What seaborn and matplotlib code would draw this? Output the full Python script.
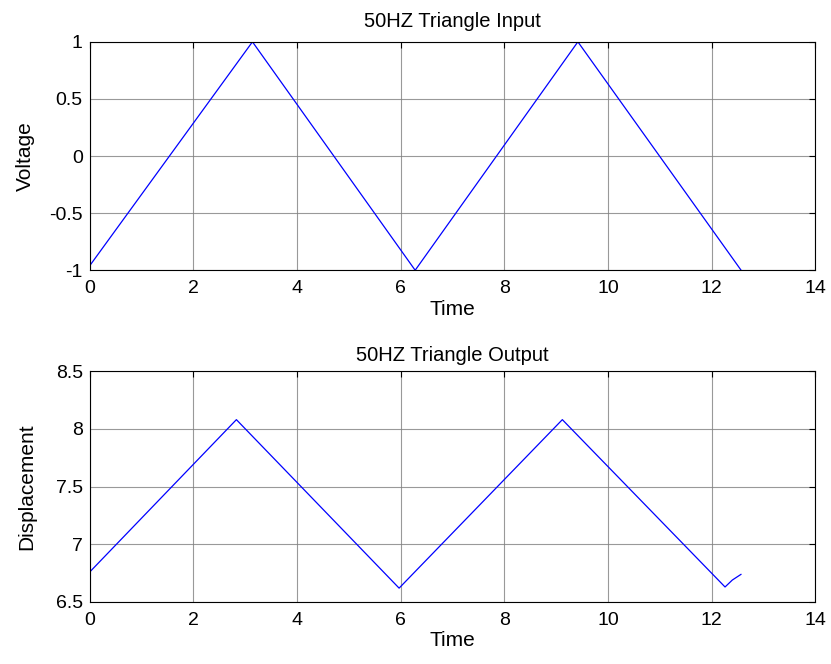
import matplotlib
matplotlib.use("Agg")
import matplotlib.pyplot as plt
import seaborn as sns
import pandas as pd

sns.set_style("white")
plt.rcParams['font.family'] = ['Liberation Sans', 'DejaVu Sans']
plt.rcParams['text.color'] = 'black'
plt.rcParams['axes.labelcolor'] = 'black'
plt.rcParams['xtick.color'] = 'black'
plt.rcParams['ytick.color'] = 'black'

# Input triangle wave vertices
t_in = [0.0, 3.14, 6.28, 9.42, 12.57]
v_in = [-0.96, 1.0, -1.0, 1.0, -1.0]

# Output displacement vertices
t_out = [0.0, 2.83, 5.97, 9.12, 12.26, 12.4, 12.57]
v_out = [6.76, 8.08, 6.62, 8.08, 6.63, 6.69, 6.74]

df_in = pd.DataFrame({"Time": t_in, "Voltage": v_in})
df_out = pd.DataFrame({"Time": t_out, "Displacement": v_out})

fig = plt.figure(figsize=(8.31, 6.64), dpi=100)
ax1 = fig.add_axes([0.108, 0.593, 0.873, 0.344])
ax2 = fig.add_axes([0.108, 0.0934, 0.873, 0.3476])

sns.lineplot(data=df_in, x="Time", y="Voltage", ax=ax1, color="#0000ff", lw=0.9, sort=False)
sns.lineplot(data=df_out, x="Time", y="Displacement", ax=ax2, color="#0000ff", lw=0.9, sort=False)

ax1.set_xlim(0, 14)
ax1.set_ylim(-1, 1)
ax1.set_xticks(range(0, 15, 2))
ax1.set_yticks([-1, -0.5, 0, 0.5, 1])
ax1.set_yticklabels(["-1", "-0.5", "0", "0.5", "1"])
ax1.set_title("50HZ Triangle Input", fontsize=14.5, pad=11, color="black")

ax2.set_xlim(0, 14)
ax2.set_ylim(6.5, 8.5)
ax2.set_xticks(range(0, 15, 2))
ax2.set_yticks([6.5, 7, 7.5, 8, 8.5])
ax2.set_yticklabels(["6.5", "7", "7.5", "8", "8.5"])
ax2.set_title("50HZ Triangle Output", fontsize=14.5, pad=7, color="black")

for ax, lp in ((ax1, 10), (ax2, 14)):
    ax.grid(True, color="#808080", lw=0.8, alpha=0.8)
    ax.tick_params(direction="in", length=4, width=0.8, top=True, right=True,
                   labelsize=14, color="black", labelcolor="black")
    ax.tick_params(axis="x", pad=7)
    ax.tick_params(axis="y", pad=5)
    for s in ax.spines.values():
        s.set_visible(True)
        s.set_color("black")
        s.set_linewidth(0.8)
    ax.set_xlabel("Time", fontsize=15, labelpad=2, color="black")
    ax.set_ylabel(ax.get_ylabel(), fontsize=15, labelpad=lp, color="black")

fig.savefig("out.png", dpi=100)
